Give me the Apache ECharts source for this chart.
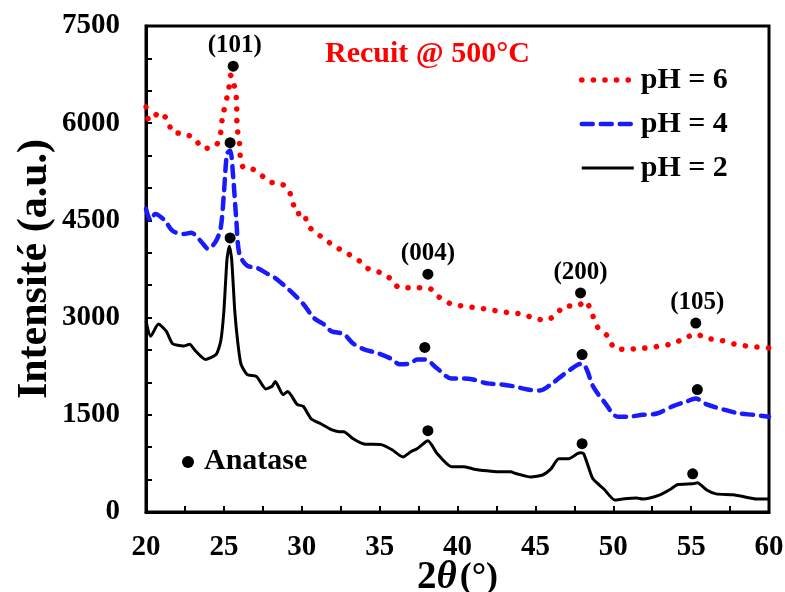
<!DOCTYPE html>
<html>
<head>
<meta charset="utf-8">
<script src="https://cdn.jsdelivr.net/npm/echarts@6/dist/echarts.min.js"></script>
<style>
  html, body { margin: 0; padding: 0; background: #fff; }
  #chart { width: 785px; height: 592px; }
</style>
</head>
<body>
<div id="chart"></div>
<script>
// pH = 6 (courbe rouge, pointillés)
var ph6X = [20.0, 20.2, 20.5, 20.8, 21.4, 21.7, 22.4, 23.1, 23.7, 24.5, 24.8, 24.9, 25.3, 25.45, 25.8, 25.85, 26.0, 26.05, 26.3, 26.9, 27.6, 28.1, 28.4, 29.1, 29.4, 29.7, 30.1, 30.4, 31.0, 31.6, 32.3, 33.0, 33.7, 34.3, 35.1, 35.7, 36.3, 37.4, 38.1, 38.8, 39.6, 40.3, 41.2, 41.9, 42.6, 43.5, 44.2, 44.9, 45.7, 46.4, 46.9, 47.7, 48.2, 48.65, 49.0, 49.7, 50.1, 51.0, 51.7, 52.6, 52.9, 53.7, 54.5, 55.3, 56.0, 56.9, 57.8, 58.6, 59.5, 60.0];
var ph6Y = [6250, 6045, 6075, 6170, 6045, 5860, 5840, 5765, 5610, 5660, 5860, 6075, 6510, 6740, 6385, 5940, 5700, 5500, 5300, 5285, 5160, 5085, 5085, 4990, 4800, 4600, 4620, 4420, 4295, 4185, 4075, 3980, 3875, 3750, 3690, 3600, 3460, 3460, 3460, 3320, 3210, 3180, 3150, 3130, 3100, 3070, 3055, 2990, 2960, 3070, 3180, 3180, 3255, 3050, 2850, 2700, 2525, 2510, 2525, 2540, 2560, 2590, 2670, 2745, 2680, 2650, 2590, 2560, 2540, 2530];

// pH = 4 (courbe bleue, tirets)
var ph4X = [20.0, 20.3, 20.6, 21.2, 21.7, 22.4, 22.9, 23.5, 24.0, 24.5, 24.8, 25.0, 25.2, 25.4, 25.6, 25.8, 26.0, 26.5, 27.1, 27.7, 28.3, 28.9, 29.5, 30.1, 30.8, 31.4, 31.9, 32.7, 33.3, 34.0, 34.9, 35.7, 36.3, 37.0, 37.4, 37.9, 38.7, 39.6, 40.4, 41.0, 41.9, 42.8, 43.6, 44.5, 45.3, 46.0, 46.8, 47.7, 48.0, 48.3, 48.7, 49.4, 50.3, 50.9, 51.9, 52.8, 53.8, 54.7, 55.3, 56.0, 57.1, 58.1, 59.0, 60.0];
var ph4Y = [4680, 4500, 4600, 4500, 4340, 4290, 4310, 4185, 4060, 4185, 4390, 4910, 5530, 5580, 5160, 4500, 3980, 3800, 3770, 3690, 3610, 3490, 3360, 3210, 2990, 2900, 2790, 2745, 2600, 2510, 2450, 2370, 2280, 2295, 2355, 2355, 2215, 2060, 2060, 2045, 1985, 1970, 1940, 1890, 1875, 1970, 2120, 2270, 2290, 2200, 1940, 1705, 1470, 1470, 1500, 1520, 1630, 1705, 1750, 1660, 1580, 1520, 1500, 1470];

// pH = 2 (courbe noire, continue)
var ph2X = [20.0, 20.3, 20.8, 21.3, 21.7, 22.4, 22.8, 23.2, 23.8, 24.5, 24.8, 25.0, 25.2, 25.35, 25.5, 25.7, 25.9, 26.1, 26.5, 27.1, 27.7, 28.1, 28.3, 28.8, 29.1, 29.7, 30.1, 30.6, 31.2, 31.9, 32.4, 32.7, 33.3, 34.0, 35.1, 35.8, 36.5, 37.0, 37.4, 38.1, 38.7, 39.6, 40.4, 41.0, 41.9, 42.6, 43.4, 43.8, 44.7, 45.5, 46.0, 46.5, 47.1, 47.7, 47.9, 48.1, 48.4, 48.7, 49.4, 50.1, 50.6, 51.5, 51.9, 53.0, 53.7, 54.1, 55.1, 55.4, 56.0, 56.6, 57.7, 58.8, 59.2, 60.0];
var ph2Y = [2945, 2712, 2900, 2790, 2600, 2560, 2590, 2480, 2355, 2430, 2640, 3100, 3900, 4100, 3900, 3100, 2600, 2280, 2120, 2090, 1900, 1940, 2015, 1810, 1860, 1660, 1630, 1440, 1365, 1270, 1240, 1240, 1130, 1050, 1040, 960, 850, 930, 975, 1100, 900, 700, 700, 665, 635, 620, 620, 590, 540, 575, 665, 820, 820, 900, 915, 900, 700, 510, 355, 185, 200, 215, 200, 265, 355, 420, 435, 450, 340, 280, 265, 215, 200, 200];

// pics anatase (points noirs)
var markX = [25.6, 25.4, 25.4, 38.1, 37.9, 38.1, 47.9, 48.0, 48.0, 55.3, 55.4, 55.1];
var markY = [6880, 5700, 4230, 3670, 2540, 1255, 3380, 2430, 1055, 2915, 1890, 590];
// indices de Miller, posés sur le point le plus haut de chaque pic
var hklX = [25.7, 38.1, 47.9, 55.4];
var hklY = [6880, 3670, 3380, 2915];
var hklLabels = ['(101)', '(004)', '(200)', '(105)'];

var xTicks = { min: 20, max: 60, step: 2.5, labelStep: 5 };
var yTicks = { min: 0, max: 7500, step: 500, labelStep: 1500 };

function pairs(xs, ys) {
  return xs.map(function (x, i) { return [x, ys[i]]; });
}

var font = 'Liberation Serif';
var redLine = { color: '#ff0000', width: 5.5, type: [0.1, 11.5], cap: 'round' };
var blueLine = { color: '#1a1aff', width: 4.5, type: [11, 8], cap: 'round' };
var blackLine = { color: '#000', width: 3 };

var chart = echarts.init(document.getElementById('chart'));

var option = {
  animation: false,
  backgroundColor: '#fff',
  textStyle: { fontFamily: font },
  grid: {
    left: 146, right: 16, top: 26, bottom: 80,
    outerBoundsMode: 'none',
    containLabel: false,
    show: true, borderColor: '#000', borderWidth: 3
  },
  title: {
    text: 'Recuit @ 500°C',
    left: 320, top: 34,
    textStyle: { color: '#ff0000', fontFamily: font, fontWeight: 'bold', fontSize: 30 }
  },
  legend: {
    orient: 'vertical',
    left: 574, top: 60,
    itemWidth: 52, itemHeight: 28, itemGap: 14,
    itemStyle: { opacity: 0 },
    data: [
      { name: 'pH = 6', lineStyle: redLine },
      { name: 'pH = 4', lineStyle: blueLine },
      { name: 'pH = 2', lineStyle: blackLine }
    ],
    textStyle: { color: '#000', fontFamily: font, fontWeight: 'bold', fontSize: 30, padding: [0, 0, 0, 2] }
  },
  xAxis: {
    type: 'value',
    min: xTicks.min, max: xTicks.max, interval: xTicks.step,
    name: '{n|2}{t|θ}{p|(°)}',
    nameLocation: 'middle', nameGap: 46, nameMoveOverlap: false,
    nameTextStyle: {
      rich: {
        n: { fontFamily: font, fontWeight: 'bold', fontSize: 39, color: '#000' },
        t: { fontFamily: font, fontStyle: 'italic', fontWeight: 'bold', fontSize: 39, color: '#000', padding: [0, 3, 0, 0] },
        p: { fontFamily: font, fontWeight: 'bold', fontSize: 36, color: '#000' }
      }
    },
    axisLine: { lineStyle: { color: '#000', width: 3 } },
    axisTick: { inside: true, length: 6, lineStyle: { color: '#000', width: 2 } },
    splitLine: { show: false },
    axisLabel: {
      margin: 21, color: '#000', fontFamily: font, fontWeight: 'bold', fontSize: 29,
      showMinLabel: true, showMaxLabel: true,
      formatter: function (v) { return v % xTicks.labelStep === 0 ? String(v) : ''; }
    }
  },
  yAxis: {
    type: 'value',
    min: yTicks.min, max: yTicks.max, interval: yTicks.step,
    name: 'Intensité (a.u.)',
    nameLocation: 'middle', nameGap: 90, nameMoveOverlap: false,
    nameTextStyle: { color: '#000', fontFamily: font, fontWeight: 'bold', fontSize: 42 },
    axisLine: { lineStyle: { color: '#000', width: 3 } },
    axisTick: { inside: true, length: 6, lineStyle: { color: '#000', width: 2 } },
    splitLine: { show: false },
    axisLabel: {
      margin: 26, color: '#000', fontFamily: font, fontWeight: 'bold', fontSize: 29,
      showMinLabel: true, showMaxLabel: true,
      formatter: function (v) { return v % yTicks.labelStep === 0 ? String(v) : ''; }
    }
  },
  graphic: [
    { type: 'circle', left: 182, top: 456, shape: { r: 6 }, style: { fill: '#000' } },
    {
      type: 'text', left: 204, top: 446,
      style: { text: 'Anatase', fill: '#000', font: 'bold 30px "Liberation Serif"' }
    }
  ],
  series: [
    {
      name: 'pH = 6', type: 'line', symbol: 'none', smooth: 0.3, z: 3,
      data: pairs(ph6X, ph6Y),
      lineStyle: redLine,
      itemStyle: { color: '#ff0000' }
    },
    {
      name: 'pH = 4', type: 'line', symbol: 'none', smooth: 0.3, z: 3,
      data: pairs(ph4X, ph4Y),
      lineStyle: blueLine,
      itemStyle: { color: '#1a1aff' }
    },
    {
      name: 'pH = 2', type: 'line', symbol: 'none', smooth: 0.2, z: 3,
      data: pairs(ph2X, ph2Y),
      lineStyle: blackLine,
      itemStyle: { color: '#000' }
    },
    {
      name: 'Anatase', type: 'scatter', symbol: 'circle', symbolSize: 11, z: 4,
      data: pairs(markX, markY),
      itemStyle: { color: '#000', opacity: 1 }
    },
    {
      name: 'hkl', type: 'scatter', symbolSize: 0, z: 5,
      data: pairs(hklX, hklY).map(function (p, i) {
        return { value: p, name: hklLabels[i] };
      }),
      itemStyle: { opacity: 1 },
      label: {
        show: true, position: 'top', distance: 8,
        formatter: function (p) { return p.name; },
        color: '#000', opacity: 1, fontFamily: font, fontWeight: 'bold', fontSize: 25
      }
    }
  ]
};

chart.setOption(option);
</script>
</body>
</html>
